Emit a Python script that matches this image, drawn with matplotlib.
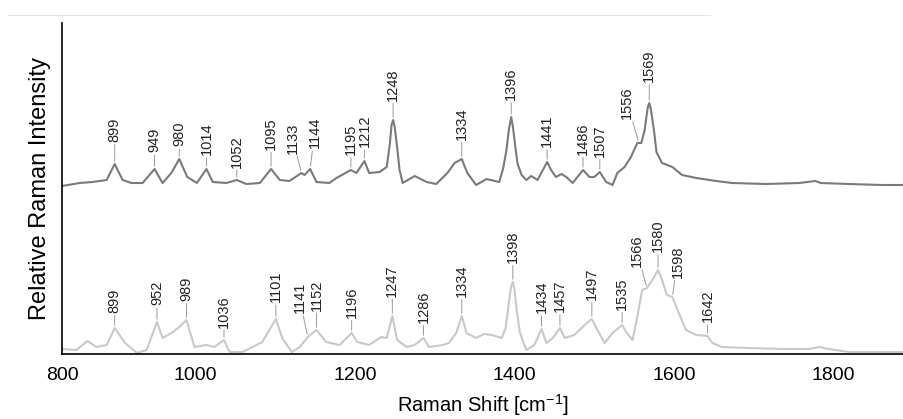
import matplotlib
matplotlib.use("Agg")
import matplotlib.pyplot as plt
from matplotlib.lines import Line2D
import numpy as np

plt.rcParams['font.family'] = ['Liberation Sans', 'DejaVu Sans']
plt.rcParams['mathtext.fontset'] = 'custom'
plt.rcParams['mathtext.rm'] = 'Liberation Sans'

# --- upper spectrum (dark grey), intensity above its own baseline ---
upper_shift = [833, 855, 871, 889, 899, 909, 920, 934, 949, 959, 970, 980, 990,
               1002, 1014, 1022, 1039, 1052, 1064, 1081, 1095, 1106, 1118, 1133,
               1137, 1144, 1152, 1168, 1177, 1195, 1202, 1212, 1218, 1231, 1240,
               1244, 1246, 1248, 1250, 1253, 1256, 1260, 1275, 1290, 1302, 1316,
               1325, 1334, 1341, 1352, 1365, 1381, 1386, 1390, 1393, 1396, 1398,
               1401, 1404, 1409, 1415, 1421, 1429, 1441, 1446, 1452, 1459, 1465,
               1473, 1486, 1494, 1500, 1507, 1515, 1523, 1529, 1538, 1546, 1554,
               1559, 1563, 1567, 1569, 1571, 1575, 1578, 1585, 1598, 1610, 1628,
               1653, 1673, 1715, 1757, 1777, 1784, 1819, 1861, 1887]
upper_int = [0, 3, 4, 6, 22, 6, 3, 3, 17, 3, 13, 27, 9, 3, 17, 4, 3, 6, 2, 3, 17,
             6, 5, 13, 11, 17, 4, 3, 8, 16, 13, 25, 13, 14, 19,
             43, 61, 66, 59, 39, 16, 3, 10, 4, 2, 13,
             23, 27, 13, 1, 7, 4, 18, 36, 56, 69, 60,
             40, 22, 11, 6, 10, 6, 24, 16, 9, 12, 9,
             3, 16, 9, 9, 14, 4, 1, 13, 19, 29, 43,
             43, 55, 78, 83, 77, 55, 34, 23, 19, 11, 8,
             5, 3, 2, 3, 5, 3, 2, 1, 1]
upper_peaks = [899, 949, 980, 1014, 1052, 1095, 1133, 1144, 1195, 1212, 1248,
               1334, 1396, 1441, 1486, 1507, 1556, 1569]

# --- lower spectrum (light grey) ---
lower_shift = [833, 851, 865, 876, 889, 899, 912, 927, 939, 952, 959, 972, 980,
               989, 999, 1014, 1024, 1036, 1043, 1059, 1072, 1084, 1101, 1109,
               1121, 1131, 1141, 1152, 1164, 1181, 1196, 1203, 1218, 1233, 1240,
               1247, 1253, 1265, 1275, 1286, 1293, 1310, 1318, 1327, 1334, 1340,
               1352, 1362, 1372, 1384, 1389, 1393, 1396, 1398, 1400, 1403, 1407,
               1415, 1425, 1434, 1440, 1448, 1457, 1463, 1475, 1488, 1497, 1504,
               1513, 1523, 1535, 1540, 1548, 1554, 1560, 1566, 1573, 1580, 1585,
               1591, 1598, 1606, 1615, 1628, 1642, 1648, 1660, 1694, 1735, 1769,
               1782, 1794, 1819, 1887]
lower_int = [4, 3, 12, 6, 8, 25, 10, 0, 3, 31, 15, 21, 26, 33, 6, 8, 6, 13, 1, 1,
             6, 11, 34, 15, 1, 6, 16, 23, 11, 8, 20, 11, 8, 16, 15, 37, 13, 6, 8,
             15, 6, 8, 10, 20, 37, 20, 15, 19, 18, 15, 25, 50, 67, 71, 64, 42, 20,
             3, 8, 24, 10, 15, 25, 15, 18, 28, 34, 23, 10, 20, 28, 21, 13, 36, 63,
             65, 73, 83, 73, 58, 56, 40, 23, 18, 17, 10, 6, 5, 4, 4, 6, 4, 1, 1]
lower_peaks = [899, 952, 989, 1036, 1101, 1141, 1152, 1196, 1247, 1286, 1334,
               1398, 1434, 1457, 1497, 1535, 1566, 1580, 1598, 1642]

tick_values = [1000, 1200, 1400, 1600, 1800]
tick_labels = ["800", "1000", "1200", "1400", "1600", "1800"]

# layout
x_start, x_end = 833, 1887
upper_base, lower_base = 168, 1
upper_lift = [16, 12, 9, 10, 9, 14, 14, 15, 11, 10, 14, 14, 12, 11, 11, 11, 17, 15]
lower_lift = [11, 12, 14, 9, 12, 17, 14, 11, 14, 11, 14, 14, 11.5, 11.5, 14, 11,
              15, 13, 14, 10]
upper_nudge = {1133: -6.3, 1144: 3.2, 1556: -8.4}
lower_nudge = {1141: -6.0, 1566: -7.0, 1598: 3.6}

fig = plt.figure(figsize=(9.04, 4.19), dpi=100)
ax = fig.add_axes([62 / 904, 65 / 419, 841 / 904, 331 / 419])


def draw(shift, inten, base, color, peaks, lifts, nudges):
    y = np.array(inten) + base
    ax.plot(shift, y, color=color, lw=1.5, solid_joinstyle='round')
    for p, lift in zip(peaks, lifts):
        py = np.interp(p, shift, y)
        ax.annotate(str(p), xy=(p, py), xytext=(nudges.get(p, 0), lift),
                    textcoords='offset points', rotation=90, ha='center',
                    va='bottom', fontsize=10.5, color='#222222',
                    arrowprops=dict(arrowstyle='-', color='#999999', lw=0.7,
                                    shrinkA=0, shrinkB=2))


draw(upper_shift, upper_int, upper_base, '#7a7a7a', upper_peaks, upper_lift, upper_nudge)
draw(lower_shift, lower_int, lower_base, '#c9c9c9', lower_peaks, lower_lift, lower_nudge)

ax.set_xlim(x_start, x_end)
ax.set_ylim(0, 331)
ax.set_xticks([x_start] + tick_values, tick_labels)
ax.set_yticks([])
ax.tick_params(axis='x', length=0, pad=9.5, labelsize=14)
for side in ['top', 'right']:
    ax.spines[side].set_visible(False)
for side in ['left', 'bottom']:
    ax.spines[side].set_linewidth(1.2)
    ax.spines[side].set_color('black')

ax.set_xlabel("Raman Shift [cm$\\mathregular{^{-1}}$]", fontsize=14.5, labelpad=6)
ax.set_ylabel("Relative Raman Intensity", fontsize=17, labelpad=8)

# faint frame line at the top of the original image
fig.add_artist(Line2D([8 / 904, 710 / 904], [1 - 15 / 419] * 2,
                      transform=fig.transFigure, color='#e6e6e6', lw=0.8))

fig.savefig('out.png', dpi=100)
